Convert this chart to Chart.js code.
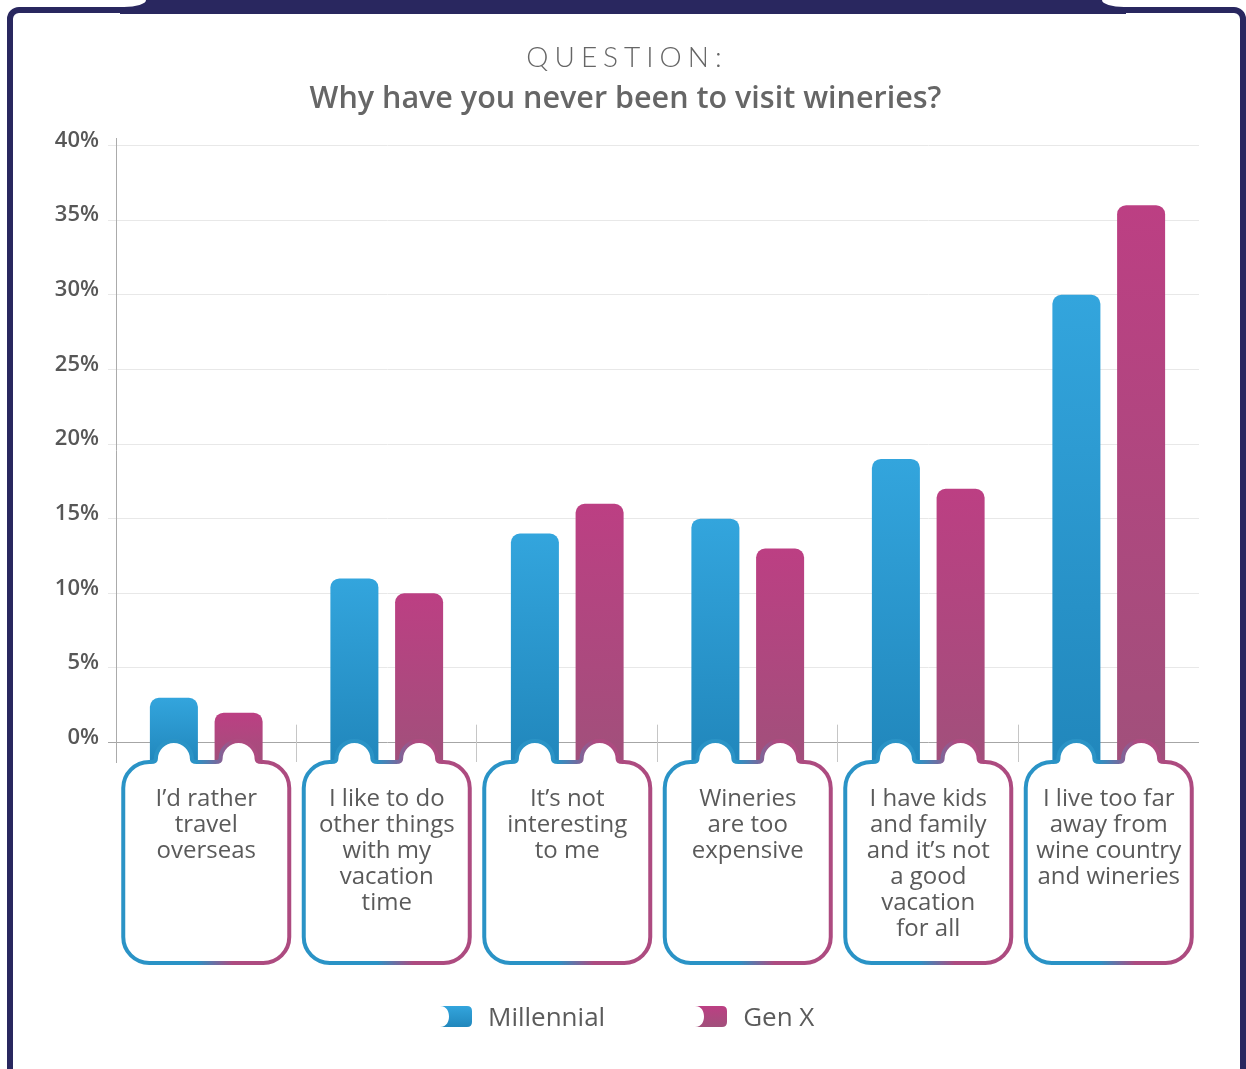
<!DOCTYPE html>
<html>
<head>
<meta charset="utf-8">
<title>Why have you never been to visit wineries?</title>
<script src="https://cdn.jsdelivr.net/npm/chart.js@4.4.1/dist/chart.umd.min.js"></script>
<style>
  html, body { margin: 0; padding: 0; background: #fff; }
  body { width: 1246px; height: 1069px; position: relative; overflow: hidden; font-family: 'Open Sans', sans-serif; }
  .frame { position: absolute; left: 7px; top: 7px; width: 1227px; height: 1080px; border: 6px solid #29275f; border-radius: 12px; }
  .tab { position: absolute; left: 120px; top: 0; width: 1006px; height: 14px; background: #29275f; }
  .notch-l { position: absolute; left: 0; top: 0; width: 146px; height: 7px; background: #fff; border-bottom-right-radius: 22px 7px; }
  .notch-r { position: absolute; left: 1102px; top: 0; width: 144px; height: 7px; background: #fff; border-bottom-left-radius: 22px 7px; }
  #chart { position: absolute; left: 0; top: 0; z-index: 2; }
  .kicker { position: absolute; left: 0; top: 39px; width: 1246px; text-align: center; z-index: 3;
            font: 300 28px/34px Lato, 'Open Sans', sans-serif; letter-spacing: 6px; padding-left: 8px; box-sizing: border-box; color: #666; }
  #legend { position: absolute; left: 440px; top: 1000px; z-index: 3; display: flex; align-items: center; }
  #legend .item { display: flex; align-items: center; margin-right: 90px; }
  #legend .item:last-child { margin-right: 0; }
  #legend svg { display: block; margin-right: 16px; }
  #legend span { font: 400 26px/32px 'Open Sans', sans-serif; color: #5b5b5b; }
</style>
</head>
<body>
<div class="frame"></div>
<div class="tab"></div>
<div class="notch-l"></div>
<div class="notch-r"></div>
<div class="kicker">QUESTION:</div>
<canvas id="chart" width="1246" height="1069"></canvas>
<div id="legend"></div>
<script>
const categories = [
  ['I’d rather', 'travel', 'overseas'],
  ['I like to do', 'other things', 'with my', 'vacation', 'time'],
  ['It’s not', 'interesting', 'to me'],
  ['Wineries', 'are too', 'expensive'],
  ['I have kids', 'and family', 'and it’s not', 'a good', 'vacation', 'for all'],
  ['I live too far', 'away from', 'wine country', 'and wineries']
];
const seriesNames = ['Millennial', 'Gen X'];
const millennial = [3, 11, 14, 15, 19, 30];
const genX = [2, 10, 16, 13, 17, 36];
const yTicks = [0, 5, 10, 15, 20, 25, 30, 35, 40];

// bars run a little below zero so they plug into the label boxes
const barBase = -1.3;

const blueStops = ['#33a5dd', '#2187bc'];
const pinkStops = ['#bc3f83', '#a1507b'];
const boxBlue = '#2a93c6';
const boxPink = '#ad4b80';

function barFill(c, stops) {
  const chart = c.chart;
  const y = chart.scales.y;
  if (!chart.chartArea || !y || typeof c.raw !== 'number') return stops[0];
  const g = chart.ctx.createLinearGradient(0, y.getPixelForValue(c.raw), 0, y.getPixelForValue(barBase));
  g.addColorStop(0, stops[0]);
  g.addColorStop(1, stops[1]);
  return g;
}

// short ticks between the categories
const separators = {
  id: 'separators',
  beforeDatasetsDraw(chart) {
    const { ctx, chartArea, scales: { x, y } } = chart;
    ctx.save();
    ctx.strokeStyle = '#c6c6c6';
    ctx.lineWidth = 1;
    for (let i = 0; i < categories.length - 1; i++) {
      const px = Math.round((x.getPixelForValue(i) + x.getPixelForValue(i + 1)) / 2) - 0.5;
      ctx.beginPath();
      ctx.moveTo(px, y.getPixelForValue(1.2));
      ctx.lineTo(px, chartArea.bottom);
      ctx.stroke();
    }
    ctx.restore();
  }
};

// rounded cap where a bar meets its label box
function dome(ctx, bar, top) {
  const r = bar.width / 2 - 6;
  ctx.lineTo(bar.x - bar.width / 2 + 1, top);
  ctx.quadraticCurveTo(bar.x - r, top, bar.x - r, top - 3);
  ctx.arc(bar.x, top - 3, r, Math.PI, 0);
  ctx.quadraticCurveTo(bar.x + r, top, bar.x + bar.width / 2 - 1, top);
}

// the bottle-shaped outline around each category label
const labelBoxes = {
  id: 'labelBoxes',
  afterDatasetsDraw(chart) {
    const { ctx, chartArea, scales: { x } } = chart;
    const top = chartArea.bottom;
    const bottom = top + 201;
    const half = 83;
    const r = 26;
    const a = chart.getDatasetMeta(0).data;
    const b = chart.getDatasetMeta(1).data;
    ctx.save();
    categories.forEach((c, i) => {
      const cx = x.getPixelForValue(i);
      const left = cx - half;
      const right = cx + half;

      ctx.fillStyle = '#fff';
      [a[i], b[i]].forEach(bar => {
        ctx.beginPath();
        ctx.moveTo(bar.x - bar.width / 2 + 1, top + 1);
        dome(ctx, bar, top);
        ctx.lineTo(bar.x + bar.width / 2 - 1, top + 1);
        ctx.closePath();
        ctx.fill();
      });

      ctx.beginPath();
      ctx.moveTo(left + r, top);
      dome(ctx, a[i], top);
      dome(ctx, b[i], top);
      ctx.arcTo(right, top, right, bottom, r);
      ctx.arcTo(right, bottom, left, bottom, r);
      ctx.arcTo(left, bottom, left, top, r);
      ctx.arcTo(left, top, left + r, top, r);
      ctx.closePath();
      const g = ctx.createLinearGradient(left, 0, right, 0);
      g.addColorStop(0, boxBlue);
      g.addColorStop(0.44, boxBlue);
      g.addColorStop(0.66, boxPink);
      g.addColorStop(1, boxPink);
      ctx.strokeStyle = g;
      ctx.lineWidth = 4;
      ctx.lineJoin = 'round';
      ctx.stroke();
    });
    ctx.restore();
  }
};

// legend built as html so the icons can keep their notched shape
const htmlLegend = {
  id: 'htmlLegend',
  afterUpdate(chart) {
    const box = document.getElementById('legend');
    box.innerHTML = '';
    chart.data.datasets.forEach((ds, i) => {
      const stops = i === 0 ? blueStops : pinkStops;
      const item = document.createElement('div');
      item.className = 'item';
      item.innerHTML =
        '<svg width="32" height="21" viewBox="0 0 32 21">' +
        '<defs><linearGradient id="lg' + i + '" x1="0" y1="0" x2="0" y2="1">' +
        '<stop offset="0" stop-color="' + stops[0] + '"/><stop offset="1" stop-color="' + stops[1] + '"/>' +
        '</linearGradient></defs>' +
        '<path d="M0 0H27Q32 0 32 5V16Q32 21 27 21H0C7 21 9 15 9 10.5C9 6 7 0 0 0Z" fill="url(#lg' + i + ')"/></svg>';
      const label = document.createElement('span');
      label.textContent = ds.label;
      item.appendChild(label);
      box.appendChild(item);
    });
  }
};

new Chart(document.getElementById('chart'), {
  type: 'bar',
  data: {
    labels: categories,
    datasets: [
      {
        label: seriesNames[0],
        data: millennial,
        base: barBase,
        backgroundColor: c => barFill(c, blueStops),
        borderRadius: { topLeft: 9, topRight: 9, bottomLeft: 0, bottomRight: 0 }
      },
      {
        label: seriesNames[1],
        data: genX,
        base: barBase,
        backgroundColor: c => barFill(c, pinkStops),
        borderRadius: { topLeft: 9, topRight: 9, bottomLeft: 0, bottomRight: 0 }
      }
    ]
  },
  options: {
    responsive: false,
    animation: false,
    events: [],
    layout: { padding: { left: 52, right: 47, top: 0, bottom: 77 } },
    datasets: { bar: { categoryPercentage: 0.717, barPercentage: 0.742 } },
    plugins: {
      legend: { display: false },
      tooltip: { enabled: false },
      title: {
        display: true,
        text: 'Why have you never been to visit wineries?',
        color: '#666',
        font: { family: 'Open Sans', size: 30.5, weight: '600', lineHeight: 1.2 },
        padding: { top: 81, bottom: 20.4 }
      }
    },
    scales: {
      x: {
        grid: { display: false },
        border: { display: false },
        ticks: {
          color: '#5a5a5a',
          font: { family: 'Open Sans', size: 24, weight: '500', lineHeight: 1.0833 },
          padding: 16,
          maxRotation: 0,
          autoSkip: false
        },
        afterFit: s => { s.height = 230; }
      },
      y: {
        min: barBase,
        max: 40.5,
        afterBuildTicks: s => { s.ticks = yTicks.map(v => ({ value: v })); },
        afterFit: s => { s.width = 64; },
        border: { display: true, color: '#ababab', width: 1 },
        grid: {
          color: c => (c.tick && c.tick.value === 0 ? '#a6a6a6' : '#e8e8e8'),
          lineWidth: 1,
          tickLength: 8
        },
        ticks: {
          color: '#575757',
          font: { family: 'Open Sans', size: 22, weight: '600' },
          padding: 9,
          labelOffset: -5,
          callback: v => v + '%'
        }
      }
    }
  },
  plugins: [separators, labelBoxes, htmlLegend]
});
</script>
</body>
</html>
